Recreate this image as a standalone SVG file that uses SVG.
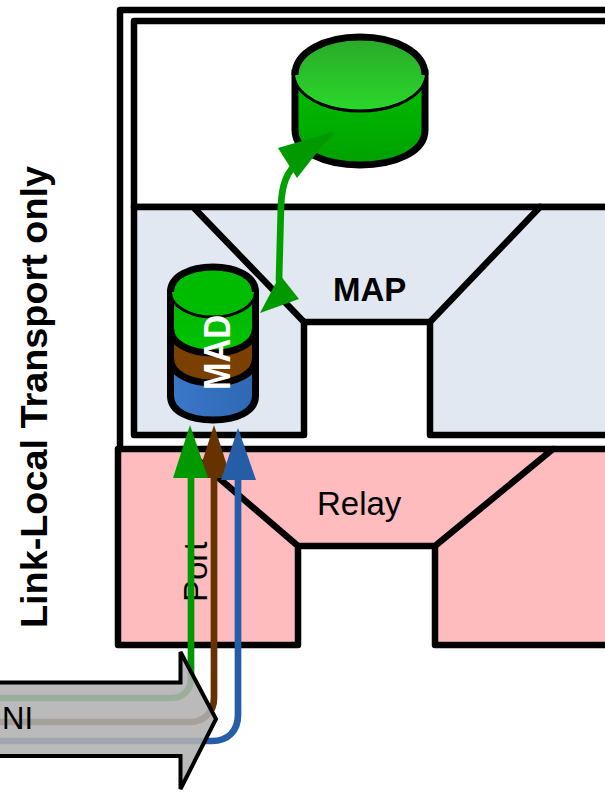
<svg xmlns="http://www.w3.org/2000/svg" width="605" height="792" viewBox="0 0 605 792">
<style>
.o{stroke:#000;stroke-width:7;stroke-linejoin:round;stroke-linecap:round}
.l{fill:none;stroke:#000;stroke-width:6.5;stroke-linejoin:round;stroke-linecap:round}
.t{font-family:"Liberation Sans",Arial,sans-serif;fill:#000}
.b{font-weight:bold}
.cg{fill:none;stroke-width:6.7}
</style>
<defs>
<linearGradient id="g1" x1="0" y1="0" x2="0" y2="1"><stop offset="0" stop-color="#2aa82a"/><stop offset="1" stop-color="#2ad82a"/></linearGradient>
<linearGradient id="g2" x1="0" y1="0" x2="0" y2="1"><stop offset="0" stop-color="#00c000"/><stop offset="1" stop-color="#00a000"/></linearGradient>
<linearGradient id="g3" x1="0" y1="0" x2="0" y2="1"><stop offset="0" stop-color="#00b400"/><stop offset="1" stop-color="#00c400"/></linearGradient>
<linearGradient id="g4" x1="0" y1="0" x2="1" y2="0"><stop offset="0" stop-color="#3a78c8"/><stop offset="1" stop-color="#2f68b4"/></linearGradient>
</defs>
<g id="outer"><path class="l" d="M610,10H120V450"/></g>
<g id="top-box"><path class="l" d="M610,21H134V207H610"/></g>
<g id="map">
<path d="M134,207H605V435H430V322H304V435H134Z" fill="#e1e8f1"/>
<path class="l" d="M610,207H134V435H304V322H430V435H610"/>
<path class="l" d="M195,209L304,322M540,207L430,322"/>
<text class="t b" x="333" y="301" font-size="33">MAP</text>
</g>
<g id="relay">
<path d="M118,449H605V645H435V546H298V645H118Z" fill="#febcbe"/>
<path class="l" d="M610,449H118V645H298V546L185,449M553,449L435,546V645H610M298,546H435"/>
<text class="t" x="317" y="515" font-size="33">Relay</text>
<text class="t" transform="translate(207,602) rotate(-90)" font-size="33">Port</text>
</g>
<g id="database">
<path d="M295,73V130C295,152 325,165 360,165C395,165 425,152 425,130V73Z" fill="url(#g2)" stroke="#000" stroke-width="7"/>
<ellipse cx="360" cy="73" rx="65" ry="37" fill="url(#g1)"/>
<path d="M297,86C308,102 332,111 360,111C388,111 412,102 423,86" fill="none" stroke="#000" stroke-width="3"/>
<path d="M295,75C295,52 325,37 360,37C395,37 425,52 425,75" fill="none" stroke="#000" stroke-width="7"/>
</g>
<g id="mad">
<path class="o" d="M170.500,340V396C170.500,412 190,420 213,420C236,420 255.500,412 255.500,396V340Z" fill="url(#g4)"/>
<path class="o" d="M170.500,305V358C170.500,374 190,383 213,383C236,383 255.500,374 255.500,358V305Z" fill="#7a4000"/>
<path class="o" d="M170.500,291V328C170.500,344 190,353 213,353C236,353 255.500,344 255.500,328V291Z" fill="url(#g3)"/>
<ellipse cx="213" cy="292" rx="42.500" ry="25" fill="#00bc00" stroke="#000" stroke-width="3"/>
<path d="M170.500,292C170.500,276 190,267 213,267C236,267 255.500,276 255.500,292" fill="none" stroke="#000" stroke-width="7"/>
<text class="b" transform="translate(230,390) rotate(-90)" font-family="Liberation Sans,Arial,sans-serif" font-size="37" textLength="75" lengthAdjust="spacingAndGlyphs" fill="#fff">MAD</text>
</g>
<g id="connectors">
<path class="cg" d="M-5,698H171C183,698 191,690 191,678V478" stroke="#009a00"/>
<path class="cg" d="M-5,722H190C204,722 214,712 214,698V470" stroke="#663300"/>
<path class="cg" d="M-5,741H212C228,741 238,731 238,715V475" stroke="#255ea6"/>
<path d="M214,425L197,478H231Z" fill="#663300"/>
<path d="M190,425L173,478H208Z" fill="#009a00"/>
<path d="M238,428L221,480H256Z" fill="#255ea6"/>
<path class="cg" d="M279,280L281,205C282,185 286,172 300,160L330,135" stroke="#00a000" stroke-width="7.500" stroke-linecap="round"/>
<path d="M260,313L299,299L280,275Z" fill="#009a00"/>
<path d="M333,132L278,148L297,178Z" fill="#009a00"/>
</g>
<g id="ni">
<path d="M-5,682.500H180.500V652L216,719L180.500,789V756H-5Z" fill="#b0b0b0" fill-opacity=".88" stroke="#000" stroke-width="4" stroke-linejoin="miter"/>
<text class="t" x="2" y="729" font-size="31">NI</text>
</g>
<g id="label"><text class="t b" transform="translate(47,628) rotate(-90)" font-size="37.800">Link-Local Transport only</text></g>
</svg>
